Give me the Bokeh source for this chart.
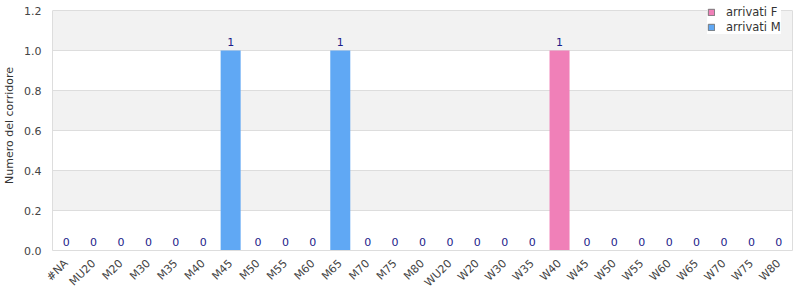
from bokeh.plotting import figure
from bokeh.models import (ColumnDataSource, Legend, LegendItem, Range1d, FixedTicker, LabelSet,
                          NumeralTickFormatter, LinearAxis)
from bokeh.core.properties import value
from bokeh.embed import file_html
from bokeh.resources import INLINE
from math import pi

categories = ["#NA", "MU20", "M20", "M30", "M35", "M40", "M45", "M50", "M55", "M60",
              "M65", "M70", "M75", "M80", "WU20", "W20", "W30", "W35", "W40", "W45",
              "W50", "W55", "W60", "W65", "W70", "W75", "W80"]
arrivati_F = [0, 0, 0, 0, 0, 0, 0, 0, 0, 0, 0, 0, 0, 0, 0, 0, 0, 0, 1, 0, 0, 0, 0, 0, 0, 0, 0]
arrivati_M = [0, 0, 0, 0, 0, 0, 1, 0, 0, 0, 1, 0, 0, 0, 0, 0, 0, 0, 0, 0, 0, 0, 0, 0, 0, 0, 0]
y_ticks = [0.0, 0.2, 0.4, 0.6, 0.8, 1.0, 1.2]

totals = [f + m for f, m in zip(arrivati_F, arrivati_M)]
src = ColumnDataSource(dict(cat=categories, F=arrivati_F, M=arrivati_M,
                            tot=totals, lab=[str(t) for t in totals]))

Y_MAX = y_ticks[-1]
# frame extends 10px above the axis maximum so the legend can sit above the plot area
p = figure(x_range=categories, y_range=Range1d(0, Y_MAX * 250 / 240), width=800, height=300,
           output_backend="svg", toolbar_location=None,
           min_border_left=50, min_border_right=10, min_border_top=0, min_border_bottom=50)
p.frame_width = 740
p.frame_height = 250

COL_F = "#f080b8"
COL_M = "#60a8f4"
p.vbar(x="cat", top="F", width=0.73, source=src, fill_color=COL_F, line_color=None)
p.vbar(x="cat", top="M", width=0.73, source=src, fill_color=COL_M, line_color=None)

# legend swatches (grey border as in the reference); NaN data so nothing is drawn in the plot
nan = float("nan")
lF = p.vbar(x=[categories[0]], bottom=[nan], top=[nan], width=0.73,
            fill_color=COL_F, line_color="#777777", line_width=1)
lM = p.vbar(x=[categories[0]], bottom=[nan], top=[nan], width=0.73,
            fill_color=COL_M, line_color="#777777", line_width=1)

labels = LabelSet(x="cat", y="tot", text="lab", source=src, text_align="center",
                  text_baseline="bottom", y_offset=5, text_font_size="11px",
                  text_color="#1c1c8a", text_font=value("DejaVu Sans"))
p.add_layout(labels)

p.yaxis.ticker = FixedTicker(ticks=y_ticks)
p.yaxis.bounds = (0, Y_MAX)
p.yaxis.formatter = NumeralTickFormatter(format="0.0")
p.yaxis.axis_label = "Numero del corridore"
p.yaxis.axis_label_text_font_style = "normal"
p.yaxis.axis_label_text_font_size = "11px"
p.yaxis.axis_label_text_color = "#333333"
p.yaxis.axis_label_text_font = "DejaVu Sans"
p.yaxis.major_label_text_font_size = "11px"
p.yaxis.major_label_text_color = "#444444"
p.yaxis.major_label_text_font = "DejaVu Sans"
p.yaxis.axis_line_color = "#dddddd"
p.yaxis.major_tick_line_color = None
p.yaxis.minor_tick_line_color = None

# right border of the plot area
rax = LinearAxis(ticker=FixedTicker(ticks=[]), bounds=(0, Y_MAX), axis_line_color="#dddddd",
                 major_tick_line_color=None, minor_tick_line_color=None,
                 major_label_text_font_size="0px", major_label_standoff=0)
p.add_layout(rax, "right")

p.xaxis.major_label_orientation = pi / 4
p.xaxis.major_label_text_font_size = "11px"
p.xaxis.major_label_text_color = "#444444"
p.xaxis.major_label_text_font = "DejaVu Sans"
p.xaxis.axis_line_color = "#dddddd"
p.xaxis.major_tick_line_color = None
p.xaxis.minor_tick_line_color = None

p.xgrid.grid_line_color = None
p.ygrid.grid_line_color = "#dddddd"
p.ygrid.band_fill_color = "#f2f2f2"
p.ygrid.band_fill_alpha = 1.0

p.outline_line_color = None

legend = Legend(items=[LegendItem(label="arrivati F", renderers=[lF]),
                       LegendItem(label="arrivati M", renderers=[lM])],
                location=(655, 216), label_text_font_size="11.5px",
                label_text_font="DejaVu Sans", label_text_color="#333333",
                glyph_width=8, glyph_height=8, spacing=0, padding=2,
                label_standoff=11, label_height=15, border_line_color=None,
                background_fill_alpha=1.0)
p.add_layout(legend)

open("out.html", "w").write(file_html(p, INLINE))
